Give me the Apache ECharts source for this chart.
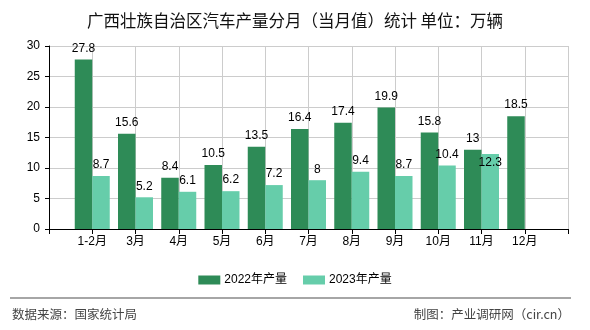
<!DOCTYPE html>
<html><head><meta charset="utf-8">
<script src="https://cdn.jsdelivr.net/npm/echarts@6/dist/echarts.min.js"></script>
<style>html,body{margin:0;padding:0;background:#fff}#c{width:590px;height:330px}</style>
</head><body><div id="c"></div>
<script>
const titleText = '广西壮族自治区汽车产量分月（当月值）统计 单位：万辆';
const categories = ['', '1-2月', '3月', '4月', '5月', '6月', '7月', '8月', '9月', '10月', '11月', '12月', ''];
const seriesNames = ['2022年产量', '2023年产量'];
const values2022 = [null, 27.8, 15.6, 8.4, 10.5, 13.5, 16.4, 17.4, 19.9, 15.8, 13, 18.5, null];
const values2023 = [null, 8.7, 5.2, 6.1, 6.2, 7.2, 8, 9.4, 8.7, 10.4, 12.3, null, null];
const yMin = 0, yMax = 30, yInterval = 5;
const sourceText = '数据来源：国家统计局';
const creditText = '制图：产业调研网（cir.cn）';

const FONT = '"Liberation Sans", "Noto Sans CJK SC", sans-serif';
const CJK = '"Noto Sans CJK SC", sans-serif';

function toData(arr, special) {
  return arr.map((v, i) => {
    if (v == null) return '-';
    if (special && special[i]) return Object.assign({ value: v }, special[i]);
    return v;
  });
}

const labelStyle = { show: true, position: 'top', distance: 5, color: '#000', fontSize: 12, fontFamily: FONT };

const chart = echarts.init(document.getElementById('c'), null, { renderer: 'canvas' });
chart.setOption({
  animation: false,
  backgroundColor: '#fff',
  title: {
    text: titleText, left: 'center', top: 7,
    textStyle: { fontSize: 16.5, fontWeight: 'normal', color: '#111', fontFamily: CJK }
  },
  legend: {
    data: seriesNames, left: 'center', top: 269,
    itemWidth: 22, itemHeight: 9, itemGap: 16,
    icon: 'rect',
    textStyle: { fontSize: 12, color: '#000', fontFamily: FONT, padding: [0, 0, 0, -1] }
  },
  grid: { left: 49, right: 22, top: 46, bottom: 101, containLabel: false },
  xAxis: {
    type: 'category', data: categories, boundaryGap: false,
    axisLine: { lineStyle: { color: '#000', width: 1 } },
    axisTick: { show: true, length: 5, interval: 0, lineStyle: { color: '#000' } },
    axisLabel: { interval: 0, color: '#000', fontSize: 12, margin: 7, fontFamily: FONT },
    splitLine: { show: true, interval: 0, lineStyle: { color: '#ccc', width: 1 } }
  },
  yAxis: {
    type: 'value', min: yMin, max: yMax, interval: yInterval,
    axisLine: { show: true, lineStyle: { color: '#000', width: 1 } },
    axisTick: { show: true, length: 4, lineStyle: { color: '#000' } },
    axisLabel: { color: '#000', fontSize: 12, margin: 9, fontFamily: FONT },
    splitLine: { show: true, lineStyle: { color: '#ccc', width: 1 } }
  },
  series: [
    {
      name: seriesNames[0], type: 'bar', data: toData(values2022),
      barWidth: 17.5, barGap: '0%',
      itemStyle: { color: '#2E8B57' },
      label: labelStyle
    },
    {
      name: seriesNames[1], type: 'bar', data: toData(values2023, { 10: { label: { offset: [0, 20] } } }),
      barWidth: 17.5, barGap: '0%',
      itemStyle: { color: '#66CDAA' },
      label: labelStyle
    }
  ],
  graphic: [
    { type: 'line', shape: { x1: 10, y1: 298, x2: 571, y2: 298 }, style: { stroke: '#888', lineWidth: 1.5 }, silent: true },
    { type: 'text', left: 12, top: 308, style: { text: sourceText, fontSize: 12.5, fill: '#444', fontFamily: CJK } },
    { type: 'text', right: 20, top: 308, style: { text: creditText, fontSize: 12.5, fill: '#444', fontFamily: CJK } }
  ]
});
</script>
</body></html>
